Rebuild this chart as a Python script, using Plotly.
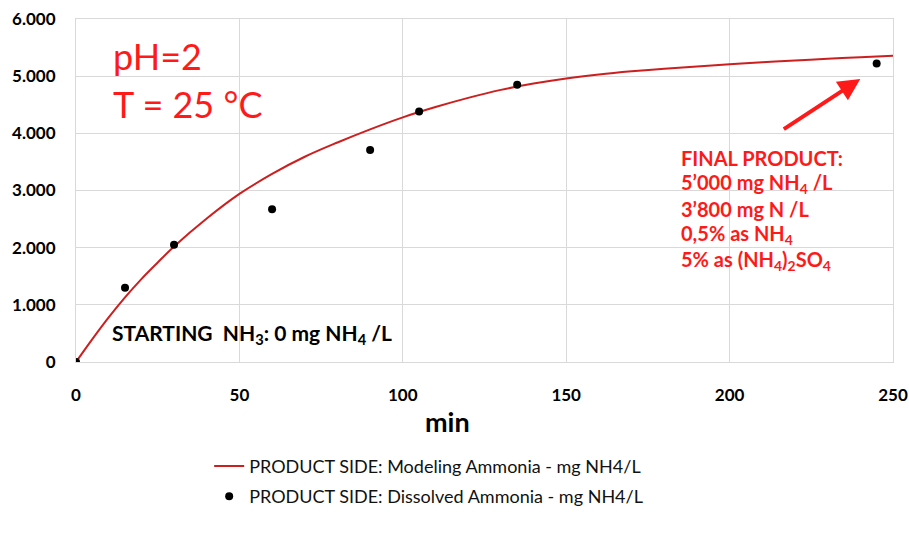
import plotly.graph_objects as go

# Measured data (dissolved ammonia, mg NH4/L)
meas_t = [0, 15, 30, 60, 90, 105, 135, 245]
meas_v = [0, 1300, 2050, 2670, 3710, 4380, 4850, 5220]

# Modeled curve
model_t = [0, 5, 10, 15, 20, 25, 30, 40, 50, 60, 70, 80, 90, 100, 110, 120, 130, 140,
           150, 160, 170, 180, 190, 200, 210, 220, 230, 240, 250]
model_v = [0, 400, 780, 1130, 1450, 1740, 2020, 2510, 2940, 3290, 3590, 3840, 4070, 4280,
           4460, 4620, 4760, 4870, 4960, 5030, 5085, 5130, 5170, 5210, 5245, 5275, 5305,
           5330, 5355]

y_ticks = [0, 1000, 2000, 3000, 4000, 5000, 6000]
y_labels = ["0", "1.000", "2.000", "3.000", "4.000", "5.000", "6.000"]
x_ticks = [0, 50, 100, 150, 200, 250]
x_labels = ["0", "50", "100", "150", "200", "250"]

FONT = "Lato"
RED = "#ff1a1a"

fig = go.Figure()
fig.add_trace(go.Scatter(
    x=model_t, y=model_v, mode="lines", line_shape="spline",
    line=dict(color="#cc1f1f", width=2), legendgroup="a",
    name="PRODUCT SIDE: Modeling Ammonia - mg NH4/L"))
fig.add_trace(go.Scatter(
    x=meas_t, y=meas_v, mode="markers",
    marker=dict(color="black", size=8), legendgroup="b",
    name="PRODUCT SIDE: Dissolved Ammonia - mg NH4/L"))

fig.update_layout(
    width=909, height=549,
    margin=dict(l=76, r=16, t=19, b=187, autoexpand=False),
    plot_bgcolor="white", paper_bgcolor="white",
    font=dict(family=FONT, color="black"),
    showlegend=True,
    legend=dict(x=0.163, y=-0.25, xanchor="left", yanchor="top",
                font=dict(size=18, family=FONT, color="#111111"),
                bgcolor="rgba(0,0,0,0)", tracegroupgap=4),
    xaxis=dict(range=[0, 250], tickvals=x_ticks,
               ticktext=["<b>" + s + "</b>" for s in x_labels],
               showgrid=True, gridcolor="#d9d9d9", gridwidth=1, automargin=False,
               showline=True, linecolor="#d9d9d9", mirror=True, zeroline=False,
               tickfont=dict(size=17, family=FONT, color="black"),
               ticklabelstandoff=18, ticklabeloverflow="allow"),
    yaxis=dict(range=[0, 6000], tickvals=y_ticks,
               ticktext=["<b>" + s + "</b>" for s in y_labels],
               showgrid=True, gridcolor="#d9d9d9", gridwidth=1, automargin=False,
               showline=True, linecolor="#d9d9d9", mirror=True, zeroline=False,
               tickfont=dict(size=17, family=FONT, color="black"),
               ticklabelstandoff=16, ticklabeloverflow="allow"),
)

anns = [
    dict(text="<b>min</b>", x=(447 - 76) / 817, y=-(421 - 362) / 343, xref="paper", yref="paper",
         showarrow=False, font=dict(size=27, family=FONT, color="black"), xanchor="center", yanchor="middle"),
    dict(text="pH=2", x=(111 - 76) / 817, y=(362 - 56) / 343, xref="paper", yref="paper",
         showarrow=False, font=dict(size=36, family=FONT, color=RED), xanchor="left", yanchor="middle"),
    dict(text="T = 25 °C", x=(111 - 76) / 817, y=(362 - 104) / 343, xref="paper", yref="paper",
         showarrow=False, font=dict(size=36, family=FONT, color=RED), xanchor="left", yanchor="middle"),
    dict(text="<b>STARTING  NH<sub>3</sub>: 0 mg NH<sub>4</sub> /L</b>", x=(110 - 76) / 817,
         y=(362 - 334) / 343, xref="paper", yref="paper", showarrow=False,
         font=dict(size=21, family=FONT, color="black"), xanchor="left", yanchor="middle"),
]
final_lines = ["FINAL PRODUCT:", "5’000 mg NH<sub>4</sub> /L", "3’800 mg N /L",
               "0,5% as NH<sub>4</sub>", "5% as (NH<sub>4</sub>)<sub>2</sub>SO<sub>4</sub>"]
for i, t in enumerate(final_lines):
    anns.append(dict(text="<b>" + t + "</b>", x=(679 - 76) / 817, y=(362 - (158 + 25.5 * i)) / 343,
                     xref="paper", yref="paper", showarrow=False,
                     font=dict(size=20, family=FONT, color=RED), xanchor="left", yanchor="middle"))
# arrow pointing toward the final measurement
anns.append(dict(text="", x=240, y=4950, xref="x", yref="y", ax=-78, ay=51,
                 showarrow=True, arrowhead=2, arrowsize=1.1, arrowwidth=4, arrowcolor=RED))
fig.update_layout(annotations=anns)

# remove the browser's default page margin so the figure fills the window exactly
fig.write_html("out.html", config={"displayModeBar": False},
               post_script="document.body.style.margin='0';document.body.style.overflow='hidden';")
